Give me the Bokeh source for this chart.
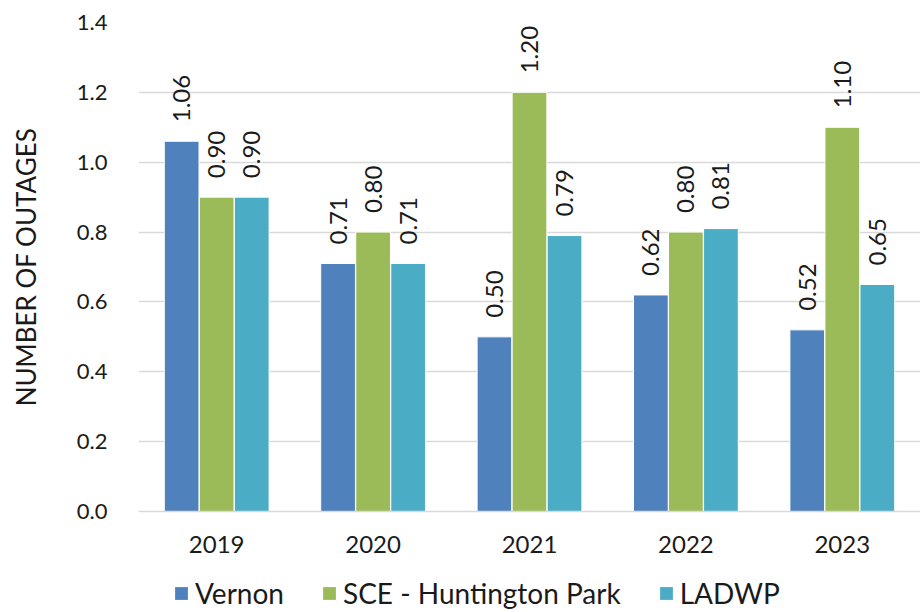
from bokeh.plotting import figure
from bokeh.layouts import column
from bokeh.models import ColumnDataSource, Range1d, FactorRange, Legend, LegendItem, CustomJSTickFormatter
from bokeh.transform import dodge
from bokeh.embed import file_html
from bokeh.resources import INLINE
from bokeh.core.properties import value
import math

years = ["2019", "2020", "2021", "2022", "2023"]
vernon = [1.06, 0.71, 0.50, 0.62, 0.52]
sce = [0.90, 0.80, 1.20, 0.80, 1.10]
ladwp = [0.90, 0.71, 0.79, 0.81, 0.65]
series_names = ["Vernon", "SCE - Huntington Park", "LADWP"]
colors = ["#4F81BD", "#9BBB59", "#4BACC6"]
y_ticks = [0.0, 0.2, 0.4, 0.6, 0.8, 1.0, 1.2, 1.4]

FONT = "Lato"
TXT = "#1a1a1a"

src = ColumnDataSource(dict(
    years=years, vernon=vernon, sce=sce, ladwp=ladwp,
    vernon_lbl=[f"{v:.2f}" for v in vernon],
    sce_lbl=[f"{v:.2f}" for v in sce],
    ladwp_lbl=[f"{v:.2f}" for v in ladwp],
))

p = figure(x_range=FactorRange(*years, range_padding=0), y_range=Range1d(0, 1.4),
           width=920, height=558, output_backend="svg", toolbar_location=None,
           min_border_left=138, min_border_right=0, min_border_top=22, min_border_bottom=47)
p.outline_line_color = None

for col, off, color in zip(["vernon", "sce", "ladwp"], [-0.224, 0.0, 0.224], colors):
    p.vbar(x=dodge("years", off, range=p.x_range), top=col, width=0.222, source=src,
           fill_color=color, line_color="white", line_width=1)
    p.text(x=dodge("years", off, range=p.x_range), y=col, text=col + "_lbl", source=src,
           angle=math.pi / 2, text_align="left", text_baseline="middle",
           y_offset=-19, text_font=value(FONT), text_font_size="24px", text_color=TXT)

p.yaxis.ticker = y_ticks
p.yaxis.formatter = CustomJSTickFormatter(code="return tick.toFixed(1);")
p.yaxis.axis_line_color = None
p.yaxis.major_tick_line_color = None
p.yaxis.minor_tick_line_color = None
p.yaxis.major_label_standoff = 25
p.yaxis.major_label_text_font = FONT
p.yaxis.major_label_text_font_size = "22px"
p.yaxis.major_label_text_color = TXT
p.yaxis.axis_label = "NUMBER OF OUTAGES"
p.yaxis.axis_label_text_font = FONT
p.yaxis.axis_label_text_font_size = "26px"
p.yaxis.axis_label_text_font_style = "normal"
p.yaxis.axis_label_text_color = TXT
p.yaxis.axis_label_standoff = 32

p.xaxis.axis_line_color = "#D9D9D9"
p.xaxis.axis_line_width = 1.5
p.xaxis.major_tick_line_color = None
p.xaxis.minor_tick_line_color = None
p.xaxis.major_label_standoff = 18
p.xaxis.major_label_text_font = FONT
p.xaxis.major_label_text_font_size = "24px"
p.xaxis.major_label_text_color = TXT

p.xgrid.grid_line_color = None
p.ygrid.grid_line_color = "#D9D9D9"
p.ygrid.grid_line_width = 1.5

# legend strip (swatch renderers sit outside the strip's visible range)
lf = figure(width=920, height=52, output_backend="svg", toolbar_location=None,
            x_range=Range1d(0, 1), y_range=Range1d(0, 1),
            x_axis_location=None, y_axis_location=None, min_border=0)
lf.outline_line_color = None
lf.grid.visible = False
swatches = [lf.vbar(x=[-5], top=[-5], width=0.1, fill_color=c, line_color=None) for c in colors]
legend = Legend(items=[LegendItem(label=n, renderers=[r]) for n, r in zip(series_names, swatches)],
                orientation="horizontal", location=(35, 0),
                label_text_font=FONT, label_text_font_size="28px", label_text_color=TXT,
                glyph_width=16, glyph_height=16, label_standoff=6, spacing=37,
                padding=0, margin=0, border_line_color=None, background_fill_alpha=0)
lf.add_layout(legend, "center")

open("out.html", "w").write(file_html(column(p, lf, spacing=0), INLINE))
